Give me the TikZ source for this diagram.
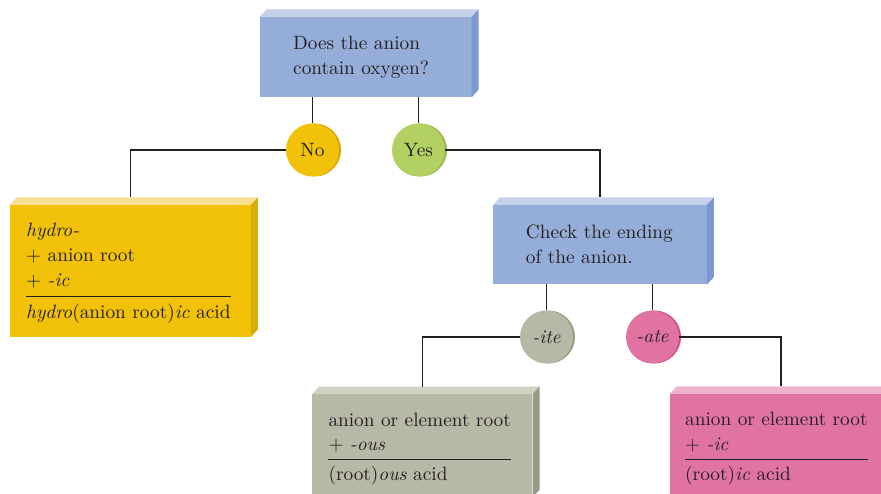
\documentclass[tikz,border=0pt]{standalone}
\usepackage{fontspec}
\setmainfont{lmroman10}[Extension=.otf,UprightFont=*-regular,ItalicFont=*-italic,BoldFont=*-bold,BoldItalicFont=*-bolditalic]
\usetikzlibrary{calc}
\definecolor{ink}{HTML}{231F20}
\definecolor{bluef}{HTML}{95ADD9}
\definecolor{bluet}{HTML}{C5D0EB}
\definecolor{blues}{HTML}{7D98CF}
\definecolor{yelf}{HTML}{F2C20A}
\definecolor{yelt}{HTML}{F9E194}
\definecolor{yels}{HTML}{D9AD08}
\definecolor{gryf}{HTML}{B7B8A6}
\definecolor{gryt}{HTML}{D0D1C3}
\definecolor{grys}{HTML}{999A86}
\definecolor{pnkf}{HTML}{E173A3}
\definecolor{pnkt}{HTML}{EEB4CD}
\definecolor{pnks}{HTML}{C85A8A}
\definecolor{grnf}{HTML}{B3D063}
\definecolor{grns}{HTML}{97B845}
\definecolor{yelc}{HTML}{D9A400}
\definecolor{pnkc}{HTML}{CF4D88}
\newcommand\bevel[3]{%
  \fill[#2] (#1.north west) -- ++(7,-7.5) -- ($(#1.north east)+(7,-7.5)$) -- (#1.north east) -- cycle;
  \fill[#3] (#1.north east) -- ++(7,-7.5) -- ($(#1.south east)+(7,-7.5)$) -- (#1.south east) -- cycle;}
\newcommand\disc[3]{%
  \fill[#3] ($(#1)+(2,0)$) circle[radius=26.5pt];
  \fill[#2] (#1) circle[radius=26.5pt];}
\begin{document}
\begin{tikzpicture}[x=1pt,y=-1pt,
  face/.style={draw=none,inner sep=0pt,minimum width=#1},
  txt/.style={font=\fontsize{19.3}{24}\selectfont,text=ink,inner sep=0pt,anchor=base west},
  ctxt/.style={circle,inner sep=0pt,minimum size=53pt,font=\fontsize{19.3}{24}\selectfont,text=ink},
  conn/.style={draw=ink,line width=1.1pt},
  rulel/.style={draw=ink,line width=1pt}]
\useasboundingbox (0,0) rectangle (881,494);
\clip (0,0) rectangle (881,494);
% boxes
\node[face=211.5pt,minimum height=80pt,fill=bluef] (q) at (365.75,57) {};
\bevel{q}{bluet}{blues}
\node[face=240.7pt,minimum height=131.7pt,fill=yelf] (hyd) at (130.35,270.85) {};
\bevel{hyd}{yelt}{yels}
\node[face=213.4pt,minimum height=79.3pt,fill=bluef] (chk) at (600,244.65) {};
\bevel{chk}{bluet}{blues}
\node[face=220pt,minimum height=103pt,fill=gryf] (gry) at (422.3,445.8) {};
\bevel{gry}{gryt}{grys}
\node[face=222pt,minimum height=103pt,fill=pnkf] (pnk) at (781,445.5) {};
\bevel{pnk}{pnkt}{pnks}
% discs
\coordinate (cNo) at (312.5,150);
\coordinate (cYes) at (418.5,150);
\coordinate (cIte) at (546.5,337);
\coordinate (cAte) at (652.5,337);
\disc{cNo}{yelf}{yelc}
\disc{cYes}{grnf}{grns}
\disc{cIte}{gryf}{grys}
\disc{cAte}{pnkf}{pnkc}
\node[ctxt] (no) at (cNo) {No};
\node[ctxt] (yes) at (cYes) {Yes};
\node[ctxt] (ite) at (cIte) {\itshape -ite};
\node[ctxt] (ate) at (cAte) {\itshape -ate};
% connectors
\draw[conn] (q.south -| no) -- (no.north);
\draw[conn] (q.south -| yes) -- (yes.north);
\draw[conn] (no.west) -| ([yshift=7.5pt]hyd.north);
\draw[conn] (yes.east) -| ([yshift=7.5pt]chk.north);
\draw[conn] (chk.south -| ite) -- (ite.north);
\draw[conn] (chk.south -| ate) -- (ate.north);
\draw[conn] (ite.west) -| ([yshift=7.5pt]gry.north);
\draw[conn] (ate.east) -| ([yshift=7.5pt]pnk.north);
% texts
\node[txt] (q1) at (293,50) {Does the anion};
\node[txt] (q2) at (293,75) {contain oxygen?};
\node[txt] (h1) at (26,236.5) {\itshape hydro-};
\node[txt] (h2) at (26,262) {+ anion root};
\node[txt] (h3) at (26,287) {+ \textit{-ic}};
\node[txt] (h4) at (26,318.3) {\textit{hydro}(anion root)\textit{ic} acid};
\draw[rulel] ([yshift=21.6pt]h4.base west) -- ([yshift=21.6pt]h4.base east);
\node[txt] (c1) at (525.7,238.3) {Check the ending};
\node[txt] (c2) at (525.7,264) {of the anion.};
\node[txt] (g1) at (328.3,426) {anion or element root};
\node[txt] (g2) at (328.3,450) {+ \textit{-ous}};
\node[txt] (g3) at (328.3,480) {(root)\textit{ous} acid};
\draw[rulel] ([yshift=20.7pt]g3.base west) -- ([yshift=20.7pt]g3.base west -| g1.base east);
\node[txt] (p1) at (685,425) {anion or element root};
\node[txt] (p2) at (685,450) {+ \textit{-ic}};
\node[txt] (p3) at (685,480) {(root)\textit{ic} acid};
\draw[rulel] ([yshift=20.7pt]p3.base west) -- ([yshift=20.7pt]p3.base west -| p1.base east);
\end{tikzpicture}
\end{document}
